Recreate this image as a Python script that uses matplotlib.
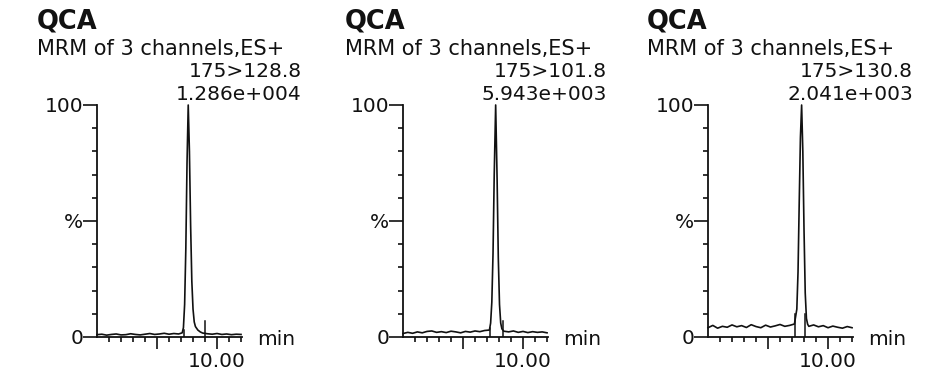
import matplotlib
matplotlib.use("Agg")
import matplotlib.pyplot as plt

# header text of each chromatogram
titles = ["QCA", "QCA", "QCA"]
subtitles = ["MRM of 3 channels,ES+"] * 3
transitions = ["175>128.8", "175>101.8", "175>130.8"]
intensities = ["1.286e+004", "5.943e+003", "2.041e+003"]

# channel 1 (175>128.8), retention time in min, relative intensity in %
time_1 = [5.0, 5.2, 5.4, 5.6, 5.8, 6.0, 6.2, 6.4, 6.6, 6.8, 7.0, 7.2, 7.4,
          7.6, 7.8, 8.0, 8.2, 8.4, 8.55, 8.6, 8.65, 8.7, 8.75, 8.8, 8.85,
          8.9, 8.95, 9.0, 9.05, 9.1, 9.2, 9.3, 9.4, 9.6, 9.8, 10.0, 10.2,
          10.4, 10.6, 10.8, 11.0]
signal_1 = [1.0, 1.2, 0.8, 1.1, 1.3, 0.9, 1.0, 1.4, 1.1, 0.9, 1.2, 1.5, 1.1,
            1.3, 1.6, 1.2, 1.5, 1.3, 1.8, 4.0, 14.0, 38.0, 75.0, 100.0, 80.0,
            48.0, 24.0, 12.0, 6.5, 4.5, 3.0, 2.2, 1.7, 1.4, 1.2, 1.5, 1.1,
            1.3, 1.0, 1.2, 1.1]

# channel 2 (175>101.8)
time_2 = [5.0, 5.2, 5.4, 5.6, 5.8, 6.0, 6.2, 6.4, 6.6, 6.8, 7.0, 7.2, 7.4,
          7.6, 7.8, 8.0, 8.2, 8.4, 8.6, 8.65, 8.7, 8.75, 8.8, 8.86, 8.92,
          8.97, 9.02, 9.07, 9.12, 9.2, 9.4, 9.6, 9.8, 10.0, 10.2, 10.4,
          10.6, 10.8, 11.0]
signal_2 = [1.5, 2.0, 1.6, 2.2, 1.8, 2.4, 2.6, 2.0, 2.3, 1.9, 2.5, 2.2, 1.8,
            2.4, 2.1, 2.6, 2.3, 2.8, 3.0, 6.0, 15.0, 36.0, 70.0, 100.0, 68.0,
            34.0, 14.0, 6.0, 3.5, 2.5, 2.2, 2.6, 2.0, 2.4, 1.9, 2.3, 2.0,
            2.2, 1.8]

# channel 3 (175>130.8)
time_3 = [5.0, 5.2, 5.4, 5.6, 5.8, 6.0, 6.2, 6.4, 6.6, 6.8, 7.0, 7.2, 7.4,
          7.6, 7.8, 8.0, 8.2, 8.4, 8.6, 8.7, 8.75, 8.8, 8.85, 8.9, 8.95,
          9.0, 9.05, 9.1, 9.15, 9.2, 9.4, 9.6, 9.8, 10.0, 10.2, 10.4, 10.6,
          10.8, 11.0]
signal_3 = [4.0, 5.0, 3.8, 4.6, 4.2, 5.2, 4.4, 4.9, 4.1, 5.3, 4.5, 4.0, 5.1,
            4.3, 4.8, 5.4, 4.6, 5.0, 5.6, 12.0, 28.0, 58.0, 86.0, 100.0, 80.0,
            46.0, 19.0, 8.0, 5.5, 4.6, 5.2, 4.4, 4.9, 4.0, 4.7, 4.2, 3.8,
            4.5, 4.0]

# integration start/end markers (min) and their heights (%)
marker_times = [[8.62, 9.50], [8.62, 9.17], [8.62, 9.04]]
marker_heights = [[3.0, 7.0], [4.0, 7.0], [10.0, 10.0]]

# axis ticks
x_major = [7.5, 10.0]
x_major_labels = ["", "10.00"]
x_minor = [5.5, 6.0, 6.5, 7.0, 8.0, 8.5, 9.0, 9.5, 10.5, 11.0]
y_major = [0, 50, 100]
y_major_labels = ["0", "%", "100"]
y_minor = [10, 20, 30, 40, 60, 70, 80, 90]

FONT = "DejaVu Sans"
INK = "#111111"


def draw_chromatogram(ax, times, signal, markers, heights):
    """
    Draws one MRM trace with its axis style.
    """
    ax.plot(times, signal, color=INK, linewidth=1.2, clip_on=False)
    for t, h in zip(markers, heights):
        ax.plot([t, t], [0, h], color=INK, linewidth=1.1)

    ax.set_xlim(5.0, 11.04)
    ax.set_ylim(0, 100)

    for side in ["top", "right"]:
        ax.spines[side].set_visible(False)
    for side in ["left", "bottom"]:
        ax.spines[side].set_linewidth(1.3)
        ax.spines[side].set_color(INK)

    ax.set_xticks(x_major)
    ax.set_xticklabels(x_major_labels)
    ax.set_xticks(x_minor, minor=True)
    ax.set_yticks(y_major)
    ax.set_yticklabels(y_major_labels)
    ax.set_yticks(y_minor, minor=True)

    ax.tick_params(axis="x", which="major", length=8.5, width=1.2, pad=2,
                   labelsize=14.5, color=INK)
    ax.tick_params(axis="x", which="minor", length=3.5, width=1.2, color=INK)
    ax.tick_params(axis="y", which="major", length=10, width=1.2, pad=0,
                   labelsize=14.5, color=INK)
    ax.tick_params(axis="y", which="minor", length=3.5, width=1.2, color=INK)
    for lab in ax.get_xticklabels() + ax.get_yticklabels():
        lab.set_fontfamily(FONT)
        lab.set_color(INK)

    # unit label at the end of the time axis
    ax.annotate("min", xy=(1, 0), xycoords="axes fraction",
                xytext=(11, -2), textcoords="offset points",
                ha="left", va="center", fontsize=14.5, family=FONT, color=INK)


def main():
    fig = plt.figure(figsize=(9.35, 3.87), dpi=100)

    traces = [(time_1, signal_1), (time_2, signal_2), (time_3, signal_3)]
    axes_left = [97, 403, 708]
    text_left = [37, 345, 647]
    text_right = [302, 607, 913]
    W, H = 935.0, 387.0

    for i, (times, signal) in enumerate(traces):
        ax = fig.add_axes([axes_left[i] / W, 1 - 337 / H, 145 / W, 232 / H])
        draw_chromatogram(ax, times, signal, marker_times[i], marker_heights[i])

        # header block above each chart
        fig.text(text_left[i] / W, 1 - 28 / H, titles[i], fontsize=18.5,
                 fontweight="bold", family=FONT, color=INK, va="baseline")
        fig.text(text_left[i] / W, 1 - 55 / H, subtitles[i], fontsize=15,
                 family=FONT, color=INK, va="baseline")
        fig.text(text_right[i] / W, 1 - 77 / H, transitions[i], fontsize=14.5,
                 family=FONT, color=INK, va="baseline", ha="right")
        fig.text(text_right[i] / W, 1 - 100 / H, intensities[i], fontsize=14.5,
                 family=FONT, color=INK, va="baseline", ha="right")

    fig.savefig("out.png", dpi=100)


if __name__ == "__main__":
    main()
